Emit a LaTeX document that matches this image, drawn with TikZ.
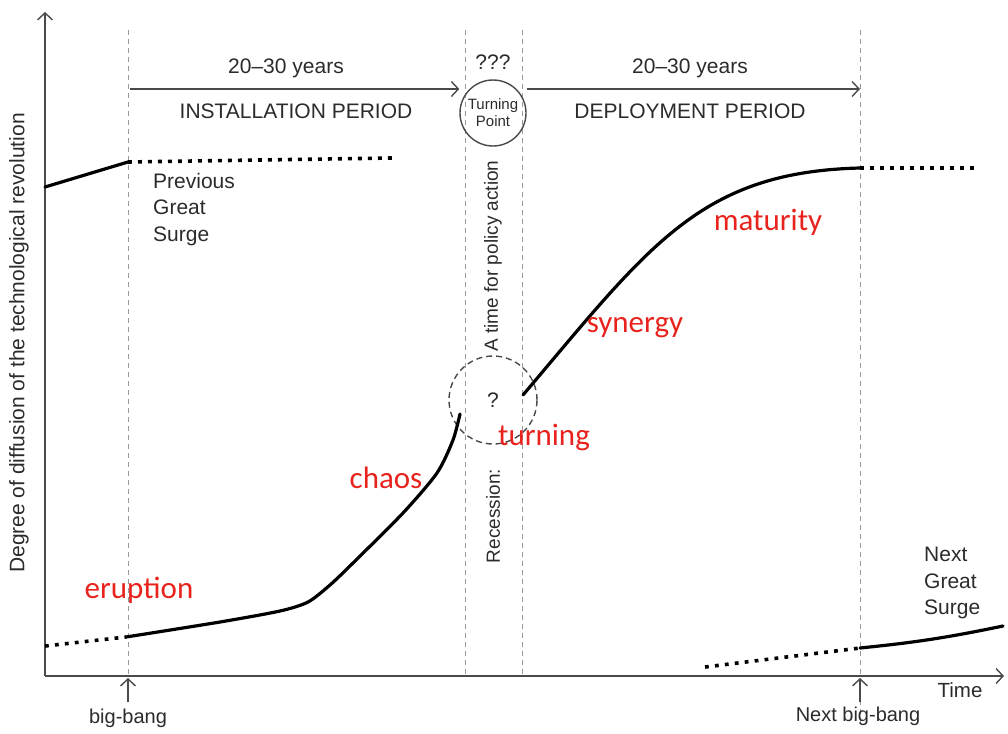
\documentclass[tikz,border=0pt]{standalone}
\usepackage{fontspec}
\setmainfont{Liberation Sans}
\newfontfamily\redf{Carlito}
\usetikzlibrary{arrows.meta}
\definecolor{txt}{HTML}{2B2B2B}
\definecolor{axisc}{HTML}{4A4A4A}
\definecolor{dashc}{HTML}{9A9A9A}
\definecolor{redc}{HTML}{E8221C}
\tikzset{
  axisline/.style={draw=axisc, line width=2pt, -{Straight Barb[length=7pt,width=15pt,line width=1.4pt]}},
  guide/.style={draw=dashc, line width=1pt, dash pattern=on 5pt off 4pt},
  curve/.style={draw=black, line width=3.2pt, line cap=round},
  dotline/.style={draw=black, line width=3.6pt, dash pattern=on 3.8pt off 6.2pt},
  lbl/.style={text=txt, font=\fontsize{21}{26.5}\selectfont, inner sep=0pt},
  redlbl/.style={text=redc, font=\redf\fontsize{31}{31}\selectfont, inner sep=0pt},
}
\begin{document}
\begin{tikzpicture}[x=1pt,y=-1pt]
\useasboundingbox (0,0) rectangle (1008,733);
% guides
\draw[guide] (128,30) -- (128,676);
\draw[guide] (465,30) -- (465,676);
\draw[guide] (522,30) -- (522,676);
\draw[guide] (860,30) -- (860,676);
\draw[guide] (860,700) -- (860,726);
% axes
\coordinate (o) at (45,676);
\coordinate (ytop) at (45,12);
\coordinate (xend) at (1004,676);
\draw[axisline] (o) -- (ytop);
\draw[axisline] (o) -- (xend);
% big bang arrows
\coordinate (bb0) at (128,702);
\coordinate (bb1) at (128,678);
\coordinate (nb0) at (860,702);
\coordinate (nb1) at (860,678);
\draw[axisline, line width=1.4pt] (bb0) -- (bb1);
\draw[axisline, line width=1.4pt] (nb0) -- (nb1);
\node[lbl, font=\fontsize{20}{24}\selectfont] (bigbang) at (128,718) {big-bang};
\node[lbl, font=\fontsize{20}{24}\selectfont] (nextbb) at (858,716) {Next big-bang};
\node[lbl, font=\fontsize{20.5}{24}\selectfont] (time) at (960,690) {Time};
% y label
\node[lbl, rotate=90] (ylab) at (19,343) {Degree of diffusion of the technological revolution};
% top periods
\node[draw=axisc, line width=1.4pt, circle, minimum size=66pt, inner sep=0pt, text=txt,
      align=center, font=\fontsize{15}{17}\selectfont] (tp) at (493,113) {Turning\\Point};
\node[lbl] (qqq) at (493,62) {???};
\coordinate (a1s) at (130,89);
\coordinate (a2e) at (860,89);
\draw[axisline, line width=1.4pt] (a1s) -- (tp.west |- a1s);
\draw[axisline, line width=1.4pt] (tp.east |- a2e) -- (a2e);
\node[lbl] (y1) at (286,68) {20--30 years};
\node[lbl] (y2) at (690,68) {20--30 years};
\node[lbl] (inst) at (296,111) {INSTALLATION PERIOD};
\node[lbl] (depl) at (690,111) {DEPLOYMENT PERIOD};
% recession text
\node[lbl, rotate=90, font=\fontsize{19}{22}\selectfont] (policy) at (493,256) {A time for policy action};
\node[lbl, rotate=90, font=\fontsize{19}{22}\selectfont] (recess) at (493,516) {Recession:};
\node[draw=axisc, line width=1.4pt, dash pattern=on 6pt off 4pt, circle, minimum size=88pt, inner sep=0pt] (tc) at (493,400) {};
\node[lbl] (qm) at (493,400) {?};
% previous surge
\coordinate (p0) at (45,187);
\coordinate (p1) at (128,162);
\coordinate (p2) at (392,158);
\draw[curve] (p0) -- (p1);
\draw[dotline] (p1) -- (p2);
\node[lbl, align=left, anchor=north west] (prev) at (153,173) {Previous\\Great\\Surge};
% main curve
\coordinate (m0) at (45,646);
\coordinate (m1) at (126,637);
\coordinate (mk) at (308,602);
\coordinate (m2) at (460,414);
\coordinate (u0) at (523,395);
\coordinate (u1) at (860,168);
\coordinate (u2) at (976,168);
\draw[dotline] (m0) -- (m1);
\draw[curve] plot[smooth, tension=0.45] coordinates {(m1) (220,622) (280,611) (mk) (330,585) (353,563) (403,513) (437,473) (453,440) (m2)};
\draw[curve] (u0) .. controls (650,245) and (700,172) .. (u1);
\draw[dotline] (u1) -- (u2);
% next surge
\coordinate (n0) at (705,667);
\coordinate (n1) at (860,648);
\coordinate (n2) at (1003,626);
\draw[dotline] (n0) -- (n1);
\draw[curve] (n1) to[bend right=3] (n2);
\node[lbl, align=left, anchor=north west] (next) at (924,547) {Next\\Great\\Surge};
% red labels
\node[redlbl] (erup) at (139,590) {eruption};
\node[redlbl] (chaos) at (386,478) {chaos};
\node[redlbl] (turn) at (544,437) {turning};
\node[redlbl] (syn) at (635,328) {synergy};
\node[redlbl] (mat) at (768,222) {maturity};
\end{tikzpicture}
\end{document}
